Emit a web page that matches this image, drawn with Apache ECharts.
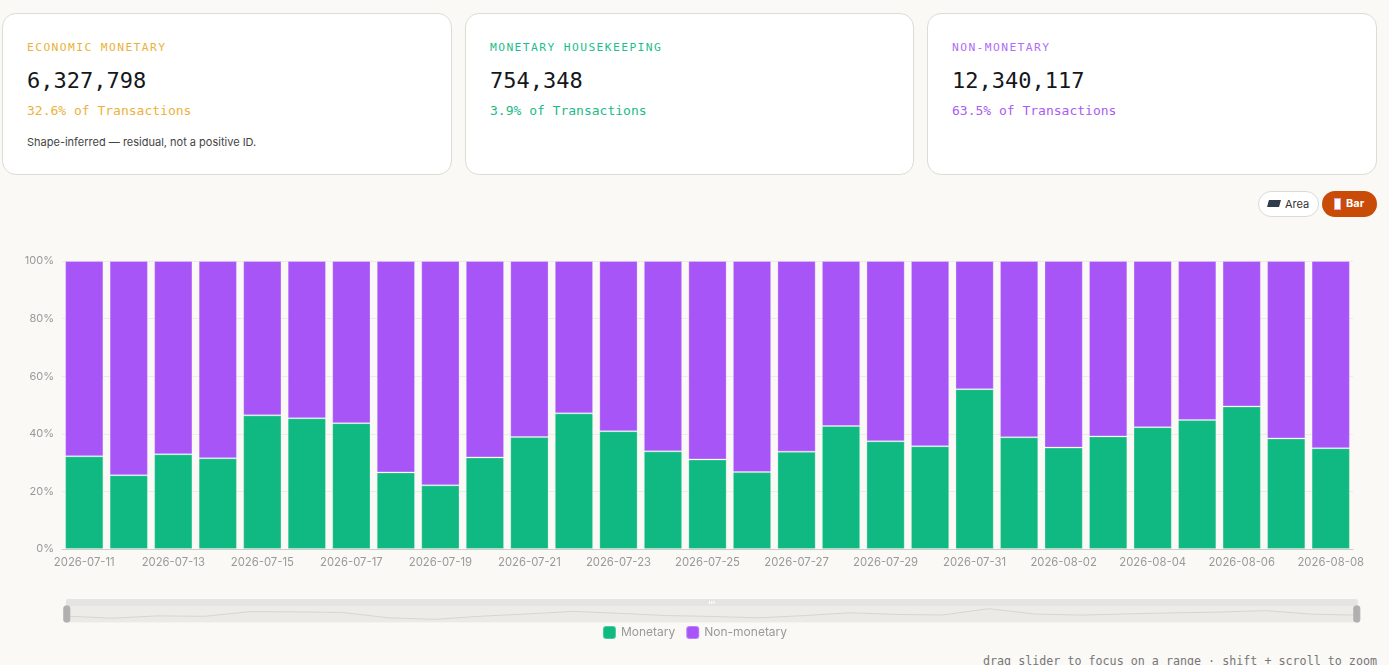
<!DOCTYPE html>
<html>
<head>
<meta charset="utf-8">
<script src="https://cdn.jsdelivr.net/npm/echarts@6/dist/echarts.min.js"></script>
<style>
  html, body { margin: 0; padding: 0; background: #faf9f6; width: 1389px; height: 665px; overflow: hidden; }
  .card { position: absolute; top: 13px; height: 162px; background: #fff; border: 1px solid #dddbd5; border-radius: 14px; box-sizing: border-box; }
  .card div { position: absolute; left: 24px; white-space: nowrap; }
  .lbl { top: 27px; font: 11.3px/14px "DejaVu Sans Mono", monospace; letter-spacing: 1.4px; }
  .num { top: 53px; font: 22px/28px "DejaVu Sans Mono", monospace; color: #15171c; }
  .sub { top: 88px; font: 13px/18px "DejaVu Sans Mono", monospace; }
  .note { top: 121px; font: 11px/14px Inter, "Noto Sans", sans-serif; color: #444; }
  .btn { position: absolute; top: 191px; height: 26px; border-radius: 13px; box-sizing: border-box; font: 11px/24px Inter, sans-serif; padding-left: 26px; }
  .btn i { position: absolute; top: 8px; }
  #chart { position: absolute; left: 0; top: 225px; width: 1389px; height: 420px; }
  .hint { position: absolute; right: 12px; top: 653px; font: 11.7px/16px "DejaVu Sans Mono", monospace; color: #777; }
</style>
</head>
<body>
<div class="card" style="left:2px;width:450px">
  <div class="lbl" style="color:#ebb23a">ECONOMIC MONETARY</div>
  <div class="num">6,327,798</div>
  <div class="sub" style="color:#ebb23a">32.6% of Transactions</div>
  <div class="note">Shape-inferred — residual, not a positive ID.</div>
</div>
<div class="card" style="left:465px;width:449px">
  <div class="lbl" style="color:#1cc08e">MONETARY HOUSEKEEPING</div>
  <div class="num">754,348</div>
  <div class="sub" style="color:#1cb98a">3.9% of Transactions</div>
</div>
<div class="card" style="left:927px;width:450px">
  <div class="lbl" style="color:#b06ef5">NON-MONETARY</div>
  <div class="num">12,340,117</div>
  <div class="sub" style="color:#a95bf3">63.5% of Transactions</div>
</div>

<div class="btn" style="left:1258px;width:61px;background:#fff;border:1px solid #dcdad4;color:#333">
  <i style="left:9px;width:12px;height:7px;background:#2f3a4a;transform:skewX(-15deg)"></i>Area
</div>
<div class="btn" style="left:1322px;width:55px;background:#c84b08;color:#fff;font-weight:bold;padding-left:24px">
  <i style="left:12px;top:7px;width:5px;height:10px;background:#fff;border:1px solid #f0a0d0"></i>Bar
</div>

<div id="chart"></div>
<div class="hint">drag slider to focus on a range · shift + scroll to zoom</div>

<script>
var dates = ['2026-07-11','2026-07-12','2026-07-13','2026-07-14','2026-07-15','2026-07-16','2026-07-17',
  '2026-07-18','2026-07-19','2026-07-20','2026-07-21','2026-07-22','2026-07-23','2026-07-24',
  '2026-07-25','2026-07-26','2026-07-27','2026-07-28','2026-07-29','2026-07-30','2026-07-31',
  '2026-08-01','2026-08-02','2026-08-03','2026-08-04','2026-08-05','2026-08-06','2026-08-07','2026-08-08'];

// share of transactions per day, percent
var monetary = [32.2,25.6,32.9,31.5,46.4,45.4,43.7,26.6,22.1,31.8,38.9,47.1,40.9,33.9,31.1,
  26.7,33.8,42.7,37.4,35.7,55.5,38.8,35.2,39.1,42.3,44.8,49.5,38.4,35.0];
var nonMonetary = [67.8,74.4,67.1,68.5,53.6,54.6,56.3,73.4,77.9,68.2,61.1,52.9,59.1,66.1,68.9,
  73.3,66.2,57.3,62.6,64.3,44.5,61.2,64.8,60.9,57.7,55.2,50.5,61.6,65.0];

var yTicks = [0, 20, 40, 60, 80, 100];

var chart = echarts.init(document.getElementById('chart'));

var option = {
  backgroundColor: 'transparent',
  animation: false,
  color: ['#10b981', '#a855f7'],
  grid: { left: 62, right: 36, top: 36, bottom: 96 },
  legend: {
    bottom: 0,
    itemWidth: 13,
    itemHeight: 13,
    itemGap: 10,
    icon: 'roundRect',
    textStyle: { color: '#999', fontSize: 12, fontFamily: 'Inter, sans-serif' },
    data: ['Monetary', 'Non-monetary']
  },
  xAxis: {
    type: 'category',
    data: dates,
    axisLine: { lineStyle: { color: '#ccc' } },
    axisTick: { lineStyle: { color: '#ccc' } },
    axisLabel: { color: '#999', fontSize: 11.3, interval: 1, fontFamily: 'Inter, sans-serif' }
  },
  yAxis: {
    type: 'value',
    min: yTicks[0],
    max: yTicks[yTicks.length - 1],
    interval: 20,
    axisLabel: { color: '#999', fontSize: 11, formatter: '{value}%', fontFamily: 'Inter, sans-serif' },
    splitLine: { lineStyle: { color: '#ebebe8' } }
  },
  dataZoom: [{
    type: 'slider',
    left: 63,
    right: 34,
    top: 374,
    height: 17,
    showDetail: false,
    borderColor: 'transparent',
    backgroundColor: 'transparent',
    fillerColor: 'rgba(0,0,0,0.05)',
    moveHandleSize: 7,
    moveHandleStyle: { color: '#e4e4e2', opacity: 1 },
    emphasis: { moveHandleStyle: { color: '#d8d8d6' }, handleStyle: { color: '#999' } },
    handleIcon: 'path://M2,0 h2 a2,2 0 0 1 2,2 v12 a2,2 0 0 1 -2,2 h-2 a2,2 0 0 1 -2,-2 v-12 a2,2 0 0 1 2,-2 z',
    handleSize: '95%',
    handleStyle: { color: '#b0b0b0', borderColor: '#b0b0b0' },
    dataBackground: {
      lineStyle: { color: '#e0e0dd', width: 1 },
      areaStyle: { color: 'rgba(0,0,0,0.01)', opacity: 1 }
    },
    selectedDataBackground: {
      lineStyle: { color: '#e0e0dd', width: 1 },
      areaStyle: { color: 'rgba(0,0,0,0.01)', opacity: 1 }
    }
  }, {
    type: 'inside',
    zoomOnMouseWheel: 'shift'
  }],
  series: [{
    name: 'Monetary',
    type: 'bar',
    stack: 'share',
    barCategoryGap: '14%',
    itemStyle: { borderColor: 'rgba(255,255,255,0.25)', borderWidth: 1 },
    data: monetary
  }, {
    name: 'Non-monetary',
    type: 'bar',
    stack: 'share',
    barCategoryGap: '14%',
    itemStyle: { borderColor: 'rgba(255,255,255,0.25)', borderWidth: 1 },
    data: nonMonetary
  }]
};

chart.setOption(option);
</script>
</body>
</html>
